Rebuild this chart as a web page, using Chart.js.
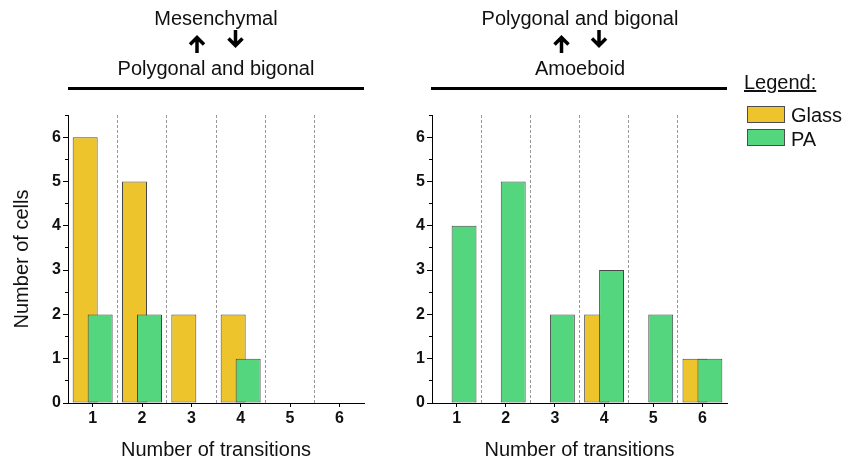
<!DOCTYPE html>
<html>
<head>
<meta charset="utf-8">
<script src="https://cdn.jsdelivr.net/npm/chart.js@4/dist/chart.umd.min.js"></script>
<style>
  body { margin: 0; background: #fff; width: 848px; height: 464px; position: relative; overflow: hidden;
         font-family: 'Liberation Sans', Arial, sans-serif; color: #111; }
  canvas { position: absolute; top: 0; }
  .t { position: absolute; font-size: 20px; line-height: 20px; white-space: nowrap; transform: translateX(-50%); }
  .rule { position: absolute; height: 3px; background: #000; top: 87px; }
  .lg { position: absolute; font-size: 20px; line-height: 20px; white-space: nowrap; }
  .sw { position: absolute; width: 36px; height: 15px; border: 1px solid #4d4d4d; left: 747px; }
  svg { position: absolute; left: 0; top: 0; }
</style>
</head>
<body>
<canvas id="left" width="400" height="464" style="left:0"></canvas>
<canvas id="right" width="360" height="464" style="left:400px"></canvas>

<!-- panel headings -->
<div class="t" style="left:216px; top:8px">Mesenchymal</div>
<div class="t" style="left:216px; top:58px">Polygonal and bigonal</div>
<div class="rule" style="left:68px; width:296px"></div>

<div class="t" style="left:580px; top:8px">Polygonal and bigonal</div>
<div class="t" style="left:580px; top:58px">Amoeboid</div>
<div class="rule" style="left:431px; width:296px"></div>

<svg width="848" height="80" viewBox="0 0 848 80">
  <g fill="none" stroke="#000" stroke-width="3.5" stroke-linejoin="miter" stroke-linecap="butt">
    <path d="M197 53 V38 M190 44.5 L197 37.5 L204 44.5"/>
    <path d="M235.5 30 V45 M228.5 38.5 L235.5 45.5 L242.5 38.5"/>
    <path d="M561.5 53 V38 M554.5 44.5 L561.5 37.5 L568.5 44.5"/>
    <path d="M599 30 V45 M592 38.5 L599 45.5 L606 38.5"/>
  </g>
</svg>

<!-- legend -->
<div class="lg" style="left:744px; top:72px; text-decoration: underline">Legend:</div>
<div class="sw" id="swGlass" style="top:106px"></div>
<div class="lg" style="left:791px; top:105px">Glass</div>
<div class="sw" id="swPA" style="top:129px"></div>
<div class="lg" style="left:791px; top:129px">PA</div>

<script>
// Number of transitions per cell (x categories)
const transitions = ['1', '2', '3', '4', '5', '6'];

// Mesenchymal <-> polygonal/bigonal
const mesGlass = [6, 5, 2, 2, 0, 0];
const mesPA    = [2, 2, 0, 1, 0, 0];

// Polygonal/bigonal <-> amoeboid
const amoGlass = [0, 0, 0, 2, 0, 1];
const amoPA    = [4, 5, 2, 3, 2, 1];

const GLASS = '#EEC42C';
const PA = '#54D67E';
const EDGE = '#474747';

document.getElementById('swGlass').style.background = GLASS;
document.getElementById('swPA').style.background = PA;

Chart.defaults.font.family = "'Liberation Sans', Arial, sans-serif";
Chart.defaults.color = '#111';

// Paint datasets in index order so later series sit on top of earlier ones
const paintInOrder = {
  id: 'paintInOrder',
  beforeDatasetsDraw(chart) {
    const metas = chart.getSortedVisibleDatasetMetas();
    for (const m of metas) chart._drawDataset(m);
    return false;
  }
};

function barSet(label, data, color) {
  return {
    label, data,
    backgroundColor: color,
    borderColor: EDGE,
    borderWidth: 1,
    borderSkipped: false,
    categoryPercentage: 0.608,
    barPercentage: 1.667,
    xAxisID: 'x',
    yAxisID: 'y'
  };
}

function panel(id, glass, pa, yWidth, rightPad, yTitle) {
  return new Chart(document.getElementById(id), {
    type: 'bar',
    data: {
      labels: transitions,
      datasets: [barSet('Glass', glass, GLASS), barSet('PA', pa, PA)]
    },
    plugins: [paintInOrder],
    options: {
      responsive: false,
      animation: false,
      devicePixelRatio: 1,
      layout: { padding: { left: 0, top: 115, right: rightPad, bottom: 0 } },
      plugins: { legend: { display: false }, tooltip: { enabled: false } },
      scales: {
        ym: {
          type: 'linear', position: 'left', min: 0, max: 6.5,
          ticks: { stepSize: 0.5, display: false },
          grid: { drawOnChartArea: false, tickLength: 3, tickColor: '#000' },
          border: { display: false },
          afterFit: s => { s.width = 0; }
        },
        y: {
          type: 'linear', position: 'left', min: 0, max: 6.5,
          ticks: { stepSize: 1, includeBounds: false, padding: 2, color: '#111',
                   font: { size: 16, weight: 'bold' } },
          grid: { drawOnChartArea: false, tickLength: 5, tickColor: '#000' },
          border: { color: '#000', width: 1 },
          title: { display: !!yTitle, text: yTitle || '', color: '#111',
                   font: { size: 20 }, padding: { top: 10, bottom: 0 } },
          afterFit: s => { s.width = yWidth; }
        },
        x: {
          type: 'category', position: 'bottom', offset: true,
          grid: { offset: false, drawOnChartArea: false, tickLength: 4, tickColor: '#000' },
          border: { color: '#000', width: 1 },
          ticks: { padding: 2, color: '#111', font: { size: 16, weight: 'bold' } },
          title: { display: true, text: 'Number of transitions', color: '#111',
                   font: { size: 20 }, padding: { top: 0, bottom: 2 } },
          afterFit: s => { s.height = 61; }
        },
        xg: {
          type: 'category', position: 'top', offset: true,
          ticks: { display: false },
          grid: {
            offset: true, drawTicks: false, lineWidth: 1,
            color: c => (c.type === 'tick' && c.index > 0) ? '#999' : 'rgba(0,0,0,0)'
          },
          border: { display: false, dash: [3, 2] },
          afterFit: s => { s.height = 0; }
        }
      }
    }
  });
}

panel('left', mesGlass, mesPA, 68, 36, 'Number of cells');
panel('right', amoGlass, amoPA, 32, 33, null);
</script>
</body>
</html>
